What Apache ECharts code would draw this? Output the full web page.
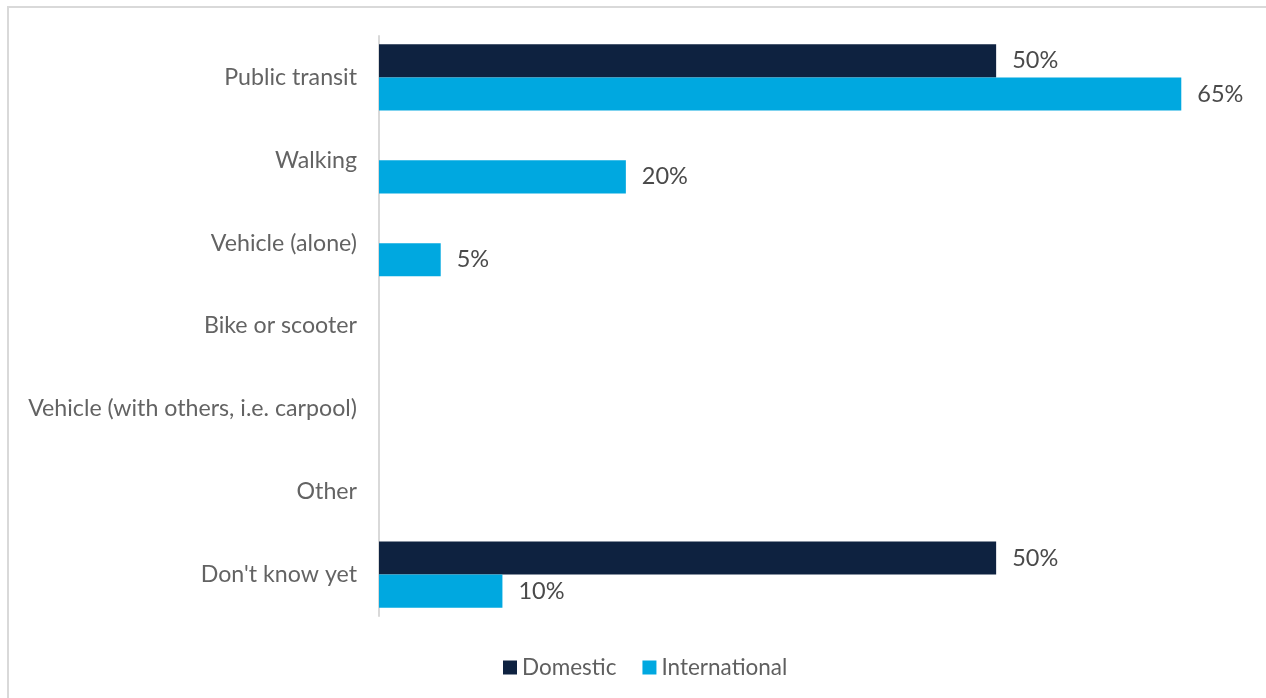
<!DOCTYPE html>
<html>
<head>
<meta charset="utf-8">
<style>
  html, body { margin: 0; padding: 0; background: #ffffff; }
  #chart { width: 1266px; height: 698px; }
</style>
<script src="https://cdn.jsdelivr.net/npm/echarts@6/dist/echarts.min.js"></script>
</head>
<body>
<div id="chart"></div>
<script>
// Modes of getting around, by student group (percent)
const categories = [
  'Public transit',
  'Walking',
  'Vehicle (alone)',
  'Bike or scooter',
  'Vehicle (with others, i.e. carpool)',
  'Other',
  "Don't know yet"
];
const domestic = [50, 0, 0, 0, 0, 0, 50];
const international = [65, 20, 5, 0, 0, 0, 10];

const FONT = 'Lato, sans-serif';

const chart = echarts.init(document.getElementById('chart'), null, { renderer: 'canvas' });

const labelStyle = {
  show: true,
  position: 'right',
  distance: 16,
  color: '#4a4a4a',
  fontFamily: FONT,
  fontSize: 23.5,
  formatter: p => (p.value ? p.value + '%' : '')
};

chart.setOption({
  animation: false,
  backgroundColor: '#ffffff',
  textStyle: { fontFamily: FONT },
  graphic: [{
    type: 'rect',
    shape: { x: 8, y: 7, width: 1300, height: 720 },
    style: { fill: 'none', stroke: '#d9d9d9', lineWidth: 2 },
    silent: true
  }],
  legend: {
    bottom: 14,
    left: 498,
    itemWidth: 14,
    itemHeight: 14,
    itemGap: 26,
    icon: 'rect',
    textStyle: { color: '#5f5f5f', fontSize: 22.5, fontFamily: FONT },
    data: ['Domestic', 'International']
  },
  grid: {
    left: 379,
    top: 36,
    width: 864,
    height: 580,
    containLabel: false
  },
  xAxis: {
    type: 'value',
    min: 0,
    max: 70,
    show: false
  },
  yAxis: {
    type: 'category',
    inverse: true,
    data: categories,
    axisLine: { show: true, lineStyle: { color: '#d9d9d9', width: 2 } },
    axisTick: { show: false },
    axisLabel: {
      margin: 22,
      color: '#636363',
      fontSize: 23.2,
      fontFamily: FONT
    }
  },
  series: [
    {
      name: 'Domestic',
      type: 'bar',
      data: domestic,
      barGap: '0%',
      barCategoryGap: '20%',
      itemStyle: { color: '#0e2240' },
      label: labelStyle
    },
    {
      name: 'International',
      type: 'bar',
      data: international,
      barGap: '0%',
      barCategoryGap: '20%',
      itemStyle: { color: '#00a8e0' },
      label: labelStyle
    }
  ]
});
</script>
</body>
</html>
